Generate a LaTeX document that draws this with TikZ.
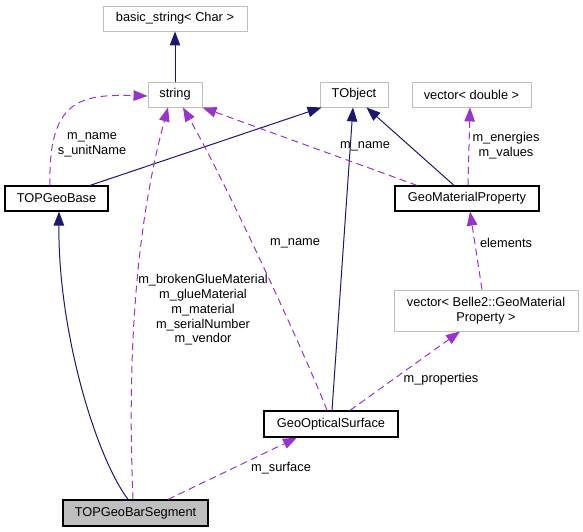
\documentclass[tikz,border=0pt]{standalone}
\usepackage{fontspec}
\setmainfont{Liberation Sans}
\usetikzlibrary{arrows.meta,calc}
\definecolor{navy}{HTML}{191970}
\definecolor{orchid}{HTML}{9A32CD}
\definecolor{boxgrey}{HTML}{BFBFBF}
\begin{document}
\begin{tikzpicture}[x=1pt,y=-1pt,
  txt/.style={font=\fontsize{12.8}{14.8}\selectfont},
  cls/.style={txt,draw=boxgrey,line width=0.9pt,fill=white,inner sep=0pt,align=center},
  mainbox/.style={cls,draw=black,line width=1.2pt},
  curbox/.style={mainbox,fill=boxgrey},
  inh/.style={draw=navy,line width=1pt,-{Triangle[length=14pt,width=10.5pt]}},
  use/.style={draw=orchid,line width=1pt,dash pattern=on 7pt off 4.5pt,-{Triangle[length=14pt,width=10.5pt]}},
  lbl/.style={txt,align=center,inner sep=0pt}]
\useasboundingbox (0,0) rectangle (583,532);
% nodes
\node[cls,minimum width=144pt,minimum height=25pt] (bs) at (175,18.5) {basic\_string< Char >};
\node[cls,minimum width=54pt,minimum height=25pt] (str) at (175,94.5) {string};
\node[mainbox,minimum width=103pt,minimum height=25pt] (tgb) at (56.5,198.5) {TOPGeoBase};
\node[cls,minimum width=68pt,minimum height=25pt] (tob) at (354,94.5) {TObject};
\node[cls,minimum width=119pt,minimum height=25pt] (vd) at (471.5,94.5) {vector< double >};
\node[mainbox,minimum width=144pt,minimum height=25pt] (gmp) at (467,198.5) {GeoMaterialProperty};
\node[cls,minimum width=184pt,minimum height=41pt] (vb) at (486,310.5) {vector< Belle2::GeoMaterial\\Property >};
\node[mainbox,minimum width=134pt,minimum height=26pt] (gos) at (331,424) {GeoOpticalSurface};
\node[curbox,minimum width=145pt,minimum height=26pt] (seg) at (135.5,513) {TOPGeoBarSegment};
% inheritance
\draw[inh] (str) -- (bs);
\draw[inh] ($(tgb.north)+(33.5,0)$) -- ($(tob.south west)+(2,0)$);
\draw[inh] ($(gmp.north)+(-13,0)$) -- ($(tob.south east)+(-22,0)$);
\draw[inh] ($(gos.north)+(1,0)$) -- ($(tob.south)+(-1,0)$);
\draw[inh] ($(seg.north)+(-7.5,0)$) .. controls (95,455) and (58,330) .. ($(tgb.south)+(2.5,0)$);
% usage
\draw[use] ($(tgb.north)+(-6.5,0)$) .. controls (48,100) and (80,94) .. ($(str.west)+(0,1.5)$);
\node[lbl] (l1) at (92,145) {m\_name\\s\_unitName};
\draw[use] ($(seg.north)+(-2.5,0)$) .. controls (128,380) and (132,240) .. ($(str.south)+(-7,0)$);
\node[lbl] (l2) at (203,310) {m\_brokenGlueMaterial\\m\_glueMaterial\\m\_material\\m\_serialNumber\\m\_vendor};
\draw[use] ($(gos.north)+(-4,0)$) .. controls (312,370) and (230,190) .. ($(str.south)+(8,0)$);
\node[lbl] (l3) at (295,243) {m\_name};
\draw[use] ($(gmp.north)+(-50,0)$) -- (str.south east);
\node[lbl] (l4) at (365,146) {m\_name};
\draw[use] ($(gmp.north)+(1,0)$) -- ($(vd.south)+(-1.5,0)$);
\node[lbl] (l5) at (506,146) {m\_energies\\m\_values};
\draw[use] ($(vb.north)+(-4,0)$) -- ($(gmp.south)+(3,0)$);
\node[lbl] (l6) at (506,243) {elements};
\draw[use] ($(gos.north)+(19,0)$) -- ($(vb.south)+(-26,0)$);
\node[lbl] (l7) at (441,379) {m\_properties};
\draw[use] ($(seg.north)+(32.5,0)$) -- ($(gos.south)+(-34,0)$);
\node[lbl] (l8) at (281,468) {m\_surface};
\end{tikzpicture}
\end{document}
